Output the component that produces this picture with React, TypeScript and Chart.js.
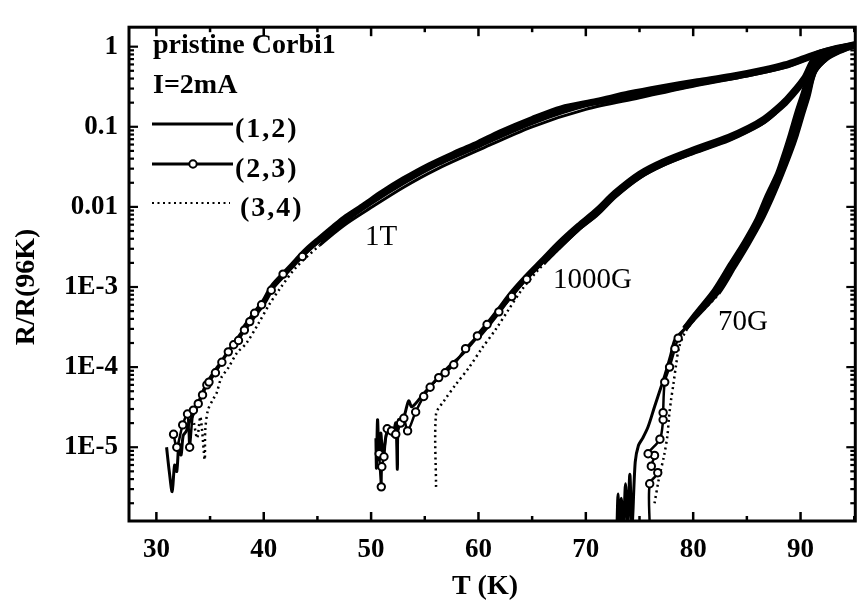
import React, { useEffect, useRef } from "react";
import { Chart, registerables } from "chart.js";

Chart.register(...registerables);

// ---------- axis ranges & ticks ----------
const X_MIN = 27.45;
const X_MAX = 95.1;
const Y_MIN = 1.2e-6;
const Y_MAX = 1.75;
const xTickValues = [30, 40, 50, 60, 70, 80, 90];
const yTickValues = [1e-5, 1e-4, 1e-3, 1e-2, 1e-1, 1];
const yTickLabels = ["1E-5", "1E-4", "1E-3", "0.01", "0.1", "1"];

// ---------- legend / labels ----------
const titleText = "pristine Corbi1";
const currentText = "I=2mA";
const seriesNames = ["(1,2)", "(2,3)", "(3,4)"];
const fieldLabels = ["1T", "1000G", "70G"];
const xTitle = "T (K)";
const yTitle = "R/R(96K)";

// ---------- data: 1T ----------
const t1_12_T = [30.95, 31.2, 31.47, 31.7, 31.9, 32.1, 32.3, 32.5, 32.8, 33.1, 33.4, 33.8, 34.2, 34.66, 35.3, 35.9, 36.5, 37.1, 38.0, 39.0, 40.0, 40.8, 42.0, 43.0, 44.0, 45.2, 46.5, 47.5, 49.2, 51.0, 53.0, 55.4, 58.0, 60.0, 62.0, 65.0, 67.7, 71.0, 74.0, 77.0, 80.4, 83.5, 86.6, 88.5, 90.3, 91.5, 93.0, 95.1];
const t1_12_R = [1.0e-5, 5e-6, 2.8e-6, 6e-6, 5e-6, 1.1e-5, 8e-6, 1.4e-5, 1.6e-5, 2.1e-5, 2.5e-5, 3.3e-5, 4.5e-5, 6.2e-5, 8.5e-5, 1.1e-4, 1.45e-4, 1.9e-4, 2.8e-4, 4.3e-4, 6.5e-4, 1.0e-3, 1.5e-3, 2.1e-3, 2.9e-3, 4.0e-3, 5.6e-3, 7.2e-3, 1.02e-2, 1.5e-2, 2.2e-2, 3.3e-2, 4.8e-2, 6.3e-2, 8.5e-2, 0.125, 0.17, 0.21, 0.26, 0.31, 0.37, 0.43, 0.52, 0.6, 0.72, 0.82, 0.94, 1.07];

const t1_23_T = [31.6, 31.9, 32.45, 32.9, 33.1, 33.45, 33.9, 34.3, 34.7, 34.9, 35.5, 36.1, 36.7, 37.2, 37.65, 38.2, 38.7, 39.15, 39.8, 40.7, 41.8, 43.6, 45.2, 47.5, 50.0, 53.0, 56.0, 60.0, 65.0, 70.0, 75.0, 80.4, 85.0, 88.5, 90.5, 92.0, 95.1];
const t1_23_R = [1.45e-5, 1.0e-5, 1.9e-5, 2.6e-5, 1.0e-5, 2.9e-5, 3.5e-5, 4.5e-5, 6.0e-5, 6.5e-5, 8.5e-5, 1.15e-4, 1.55e-4, 1.9e-4, 2.15e-4, 2.9e-4, 3.7e-4, 4.7e-4, 6.0e-4, 9.1e-4, 1.45e-3, 2.4e-3, 3.7e-3, 6.7e-3, 1.15e-2, 2.05e-2, 3.4e-2, 5.9e-2, 0.115, 0.19, 0.25, 0.35, 0.45, 0.57, 0.71, 0.86, 1.05];

const t1_34_T = [33.5, 33.8, 34.1, 34.5, 34.55, 34.8, 35.3, 35.6, 36.05, 36.7, 37.5, 38.4, 39.5, 40.5, 41.5, 43.0, 45.2, 47.5, 50.0, 53.0, 56.0, 60.0, 65.0, 70.0, 75.0, 80.4, 85.0, 88.5, 90.5, 92.0, 95.1];
const t1_34_R = [2.0e-5, 1.3e-5, 2.4e-5, 7.0e-6, 1.6e-5, 2.9e-5, 4.0e-5, 4.7e-5, 7.4e-5, 9.8e-5, 1.5e-4, 2.0e-4, 3.5e-4, 6.0e-4, 9.5e-4, 1.75e-3, 3.3e-3, 5.9e-3, 9.8e-3, 1.75e-2, 2.9e-2, 5.1e-2, 0.1, 0.165, 0.23, 0.33, 0.43, 0.55, 0.69, 0.84, 1.04];

// ---------- data: 1000G ----------
const g1000_12_T = [50.45, 50.5, 50.6, 50.75, 50.9, 51.1, 51.4, 51.7, 52.0, 52.3, 52.45, 52.55, 53.0, 53.5, 53.8, 54.8, 56.0, 57.2, 58.5, 59.8, 60.95, 62.0, 63.1, 64.5, 65.9, 67.5, 69.3, 71.0, 72.7, 75.0, 77.2, 80.0, 83.3, 85.2, 86.6, 87.7, 88.7, 90.3, 91.3, 92.5, 95.1];
const g1000_12_R = [1.3e-5, 5.5e-6, 2.2e-5, 7e-6, 1.5e-5, 8e-6, 1.4e-5, 1.7e-5, 1.4e-5, 2.0e-5, 5.3e-6, 2.2e-5, 2.3e-5, 3.8e-5, 3.2e-5, 4.5e-5, 6.8e-5, 1.0e-4, 1.45e-4, 2.3e-4, 3.5e-4, 5.3e-4, 8.3e-4, 1.35e-3, 2.1e-3, 3.5e-3, 5.8e-3, 9.0e-3, 1.5e-2, 2.6e-2, 3.7e-2, 5.2e-2, 7.5e-2, 9.8e-2, 0.126, 0.165, 0.22, 0.4, 0.72, 0.88, 1.07];

const g1000_23_T = [50.75, 50.95, 51.0, 51.2, 51.5, 51.9, 52.3, 52.75, 53.05, 53.4, 54.15, 54.9, 55.5, 56.3, 56.9, 57.7, 58.8, 59.9, 60.8, 61.9, 63.1, 64.5, 66.0, 67.5, 69.3, 71.0, 72.7, 75.0, 77.2, 80.0, 83.3, 85.2, 86.6, 87.7, 88.7, 90.3, 91.3, 92.5, 95.1];
const g1000_23_R = [8.3e-6, 3.2e-6, 5.7e-6, 7.6e-6, 1.7e-5, 1.6e-5, 1.45e-5, 2.0e-5, 2.3e-5, 1.6e-5, 2.75e-5, 4.3e-5, 5.6e-5, 7.4e-5, 8.5e-5, 1.07e-4, 1.7e-4, 2.45e-4, 3.4e-4, 4.9e-4, 7.6e-4, 1.25e-3, 2.0e-3, 3.2e-3, 5.4e-3, 8.2e-3, 1.38e-2, 2.4e-2, 3.45e-2, 4.85e-2, 7.0e-2, 9.2e-2, 0.118, 0.155, 0.205, 0.375, 0.69, 0.86, 1.05];

const g1000_34_T = [56.05, 56.05, 56.8, 57.9, 59.1, 60.3, 61.6, 62.8, 64.0, 65.5, 67.5, 69.3, 71.0, 72.7, 75.0, 77.2, 80.0, 83.3, 85.2, 86.6, 87.7, 88.7, 90.3, 91.3, 92.5, 95.1];
const g1000_34_R = [3.2e-6, 2.6e-5, 3.8e-5, 6.1e-5, 9.8e-5, 1.7e-4, 2.95e-4, 5.2e-4, 9.1e-4, 1.6e-3, 3.0e-3, 5.1e-3, 7.9e-3, 1.32e-2, 2.3e-2, 3.3e-2, 4.7e-2, 6.8e-2, 8.9e-2, 0.112, 0.148, 0.2, 0.36, 0.66, 0.85, 1.04];

// ---------- data: 70G ----------
const g70_12_T = [72.9, 73.0, 73.1, 73.3, 73.5, 73.7, 73.9, 74.1, 74.3, 74.6, 74.9, 75.3, 75.8, 76.4, 77.0, 77.35, 77.9, 78.3, 79.2, 80.2, 82.0, 83.5, 84.8, 86.0, 86.9, 87.9, 88.6, 89.1, 89.7, 90.2, 91.0, 92.2, 93.5, 95.1];
const g70_12_R = [1.0e-6, 2.6e-6, 1.0e-6, 2.3e-6, 1.0e-6, 3.5e-6, 1.0e-6, 4.6e-6, 1.0e-6, 6.5e-6, 1.05e-5, 1.3e-5, 1.8e-5, 3.2e-5, 5.6e-5, 7.8e-5, 1.4e-4, 2.2e-4, 3.0e-4, 4.5e-4, 9.0e-4, 1.9e-3, 3.6e-3, 7.0e-3, 1.35e-2, 2.6e-2, 4.9e-2, 8.0e-2, 0.15, 0.24, 0.5, 0.72, 0.88, 1.05];

const g70_23_T = [75.95, 75.95, 76.7, 76.1, 76.4, 75.8, 76.9, 77.2, 77.2, 77.35, 77.8, 78.3, 78.6, 79.3, 80.2, 82.2, 83.7, 85.0, 86.2, 87.2, 88.1, 88.9, 89.5, 90.1, 90.6, 91.3, 92.4, 93.6, 95.1];
const g70_23_R = [1.0e-6, 3.5e-6, 4.8e-6, 5.8e-6, 7.9e-6, 8.3e-6, 1.26e-5, 2.2e-5, 2.7e-5, 6.5e-5, 1.0e-4, 1.7e-4, 2.3e-4, 3.1e-4, 4.3e-4, 8.5e-4, 1.8e-3, 3.5e-3, 6.8e-3, 1.3e-2, 2.5e-2, 4.7e-2, 8.0e-2, 0.15, 0.25, 0.5, 0.72, 0.88, 1.05];

const g70_34_T = [76.4, 76.8, 77.3, 77.6, 77.75, 77.95, 78.15, 78.4, 78.7, 79.3, 80.3, 82.4, 83.9, 85.2, 86.4, 87.4, 88.3, 89.1, 89.7, 90.3, 90.8, 91.4, 92.5, 93.7, 95.1];
const g70_34_R = [2.0e-6, 4.0e-6, 8.0e-6, 1.4e-5, 2.4e-5, 4.0e-5, 6.0e-5, 1.05e-4, 1.8e-4, 2.8e-4, 4.2e-4, 8.3e-4, 1.75e-3, 3.4e-3, 6.6e-3, 1.27e-2, 2.45e-2, 4.6e-2, 7.8e-2, 0.145, 0.24, 0.48, 0.7, 0.87, 1.04];

// ---------- styles ----------
const FONT = "'Liberation Serif', 'Times New Roman', serif";
const BLACK = "#000";
const TENSION = 0.3;

const pts = (T: number[], R: number[]) => T.map((t, i) => ({ x: t, y: R[i] }));

// thick where data are dense (upper part), thinner in the noisy tail
const widthAbove = (thr: number, thick: number, thin: number) => (c: any) =>
  c.p0.parsed.y > thr && c.p1.parsed.y > thr ? thick : thin;

const solidDs = (T: number[], R: number[], denseAbove: number) => ({
  data: pts(T, R),
  borderColor: BLACK,
  borderWidth: 3,
  pointRadius: 0,
  fill: false,
  tension: TENSION,
  segment: { borderWidth: widthAbove(denseAbove, 6, 3) },
});

const circleDs = (T: number[], R: number[], visibleBelow: number) => ({
  data: pts(T, R),
  borderColor: BLACK,
  borderWidth: 2.5,
  tension: TENSION,
  fill: false,
  segment: { borderWidth: widthAbove(visibleBelow, 6, 2.5) },
  pointRadius: (c: any) => (c.raw && c.raw.y < visibleBelow ? 3.7 : 0),
  pointHoverRadius: 0,
  pointBackgroundColor: "#fff",
  pointBorderColor: BLACK,
  pointBorderWidth: 2,
});

const dottedDs = (T: number[], R: number[], solidAbove: number) => ({
  data: pts(T, R),
  borderColor: BLACK,
  borderWidth: 2.5,
  pointRadius: 0,
  fill: false,
  tension: TENSION,
  borderDash: [2, 3.5],
  segment: {
    borderDash: (c: any) =>
      c.p0.parsed.y > solidAbove && c.p1.parsed.y > solidAbove ? [] : [2, 3.5],
    borderWidth: widthAbove(solidAbove, 3, 2.5),
  },
});

const decorPlugin = {
  id: "decor",
  afterDatasetsDraw(chart: any) {
    const { ctx, chartArea, scales } = chart;
    const { left, right, top, bottom } = chartArea;
    const x = scales.x;
    const y = scales.y;
    const line = (x1: number, y1: number, x2: number, y2: number) => {
      ctx.beginPath();
      ctx.moveTo(x1, y1);
      ctx.lineTo(x2, y2);
      ctx.stroke();
    };
    ctx.save();
    ctx.strokeStyle = BLACK;
    ctx.fillStyle = BLACK;
    // frame
    ctx.lineWidth = 3;
    ctx.strokeRect(left, top, right - left, bottom - top);
    // x ticks (inward, bottom and top)
    ctx.lineWidth = 2.5;
    for (let v = 30; v <= X_MAX; v += 5) {
      const px = x.getPixelForValue(v);
      const L = v % 10 === 0 ? 9 : 5;
      line(px, bottom, px, bottom - L);
      line(px, top, px, top + L);
    }
    // y ticks (inward, left and right)
    ctx.lineWidth = 2.2;
    for (let e = -6; e <= 0; e++) {
      for (let m = 1; m <= 9; m++) {
        const v = m * Math.pow(10, e);
        if (v < Y_MIN || v > Y_MAX) continue;
        const py = y.getPixelForValue(v);
        const L = m === 1 ? 9 : 5;
        line(left, py, left + L, py);
        line(right, py, right - L, py);
      }
    }
    // legend
    ctx.font = `bold 28px ${FONT}`;
    ctx.textBaseline = "alphabetic";
    ctx.textAlign = "left";
    ctx.fillText(titleText, 153, 53);
    ctx.fillText(currentText, 153, 93);
    ctx.lineWidth = 3;
    line(152, 124, 233, 124);
    line(152, 164, 233, 164);
    ctx.beginPath();
    ctx.arc(193, 164, 3.7, 0, Math.PI * 2);
    ctx.fillStyle = "#fff";
    ctx.fill();
    ctx.lineWidth = 2;
    ctx.stroke();
    ctx.fillStyle = BLACK;
    ctx.lineWidth = 2;
    ctx.setLineDash([2, 3.5]);
    line(152, 203, 230, 203);
    ctx.setLineDash([]);
    (ctx as any).letterSpacing = "2px";
    ctx.fillText(seriesNames[0], 235, 137);
    ctx.fillText(seriesNames[1], 235, 177);
    ctx.fillText(seriesNames[2], 240, 216);
    (ctx as any).letterSpacing = "0px";
    // field labels
    ctx.font = `29px ${FONT}`;
    ctx.fillText(fieldLabels[0], 365, 245);
    ctx.fillText(fieldLabels[1], 553, 288);
    ctx.fillText(fieldLabels[2], 718, 330);
    // axis titles
    ctx.font = `bold 28px ${FONT}`;
    ctx.textAlign = "center";
    ctx.textBaseline = "middle";
    ctx.fillText(xTitle, 485, 587);
    ctx.translate(27, 287);
    ctx.rotate(-Math.PI / 2);
    ctx.fillText(yTitle, 0, 0);
    ctx.restore();
  },
};

export default function App() {
  const ref = useRef<HTMLCanvasElement | null>(null);

  useEffect(() => {
    document.body.style.margin = "0";
    const canvas = ref.current;
    if (!canvas) return;
    const chart = new Chart(canvas, {
      type: "line",
      data: {
        datasets: [
          circleDs(t1_23_T, t1_23_R, 2.5e-3),
          circleDs(g1000_23_T, g1000_23_R, 1.5e-3),
          circleDs(g70_23_T, g70_23_R, 3e-4),
          solidDs(t1_12_T, t1_12_R, 2e-4),
          solidDs(g1000_12_T, g1000_12_R, 2e-4),
          solidDs(g70_12_T, g70_12_R, 2.5e-4),
          dottedDs(t1_34_T, t1_34_R, 2e-3),
          dottedDs(g1000_34_T, g1000_34_R, 2e-3),
          dottedDs(g70_34_T, g70_34_R, 5e-4),
        ] as any,
      },
      options: {
        responsive: false,
        animation: false,
        events: [],
        layout: { padding: { top: 12, right: 3, left: 0, bottom: 0 } },
        plugins: { legend: { display: false }, tooltip: { enabled: false } },
        scales: {
          x: {
            type: "linear",
            min: X_MIN,
            max: X_MAX,
            bounds: "data",
            grid: { display: false, drawTicks: false },
            border: { display: false },
            ticks: {
              color: BLACK,
              font: { family: FONT, size: 27, weight: "bold" },
              padding: 13,
              autoSkip: false,
              maxRotation: 0,
            },
            afterBuildTicks: (s: any) => {
              s.ticks = xTickValues.map((v) => ({ value: v }));
            },
            afterFit: (s: any) => {
              s.height = 86;
            },
          },
          y: {
            type: "logarithmic",
            min: Y_MIN,
            max: Y_MAX,
            bounds: "data",
            grid: { display: false, drawTicks: false },
            border: { display: false },
            ticks: {
              color: BLACK,
              font: { family: FONT, size: 27, weight: "bold" },
              padding: 11,
              autoSkip: false,
              callback: (_v: any, i: number) => yTickLabels[i],
            },
            afterBuildTicks: (s: any) => {
              s.ticks = yTickValues.map((v) => ({ value: v, major: true }));
            },
            afterFit: (s: any) => {
              s.width = 129;
            },
          },
        },
      } as any,
      plugins: [decorPlugin],
    });
    return () => chart.destroy();
  }, []);

  return <canvas ref={ref} width={861} height={607} style={{ display: "block" }} />;
}
